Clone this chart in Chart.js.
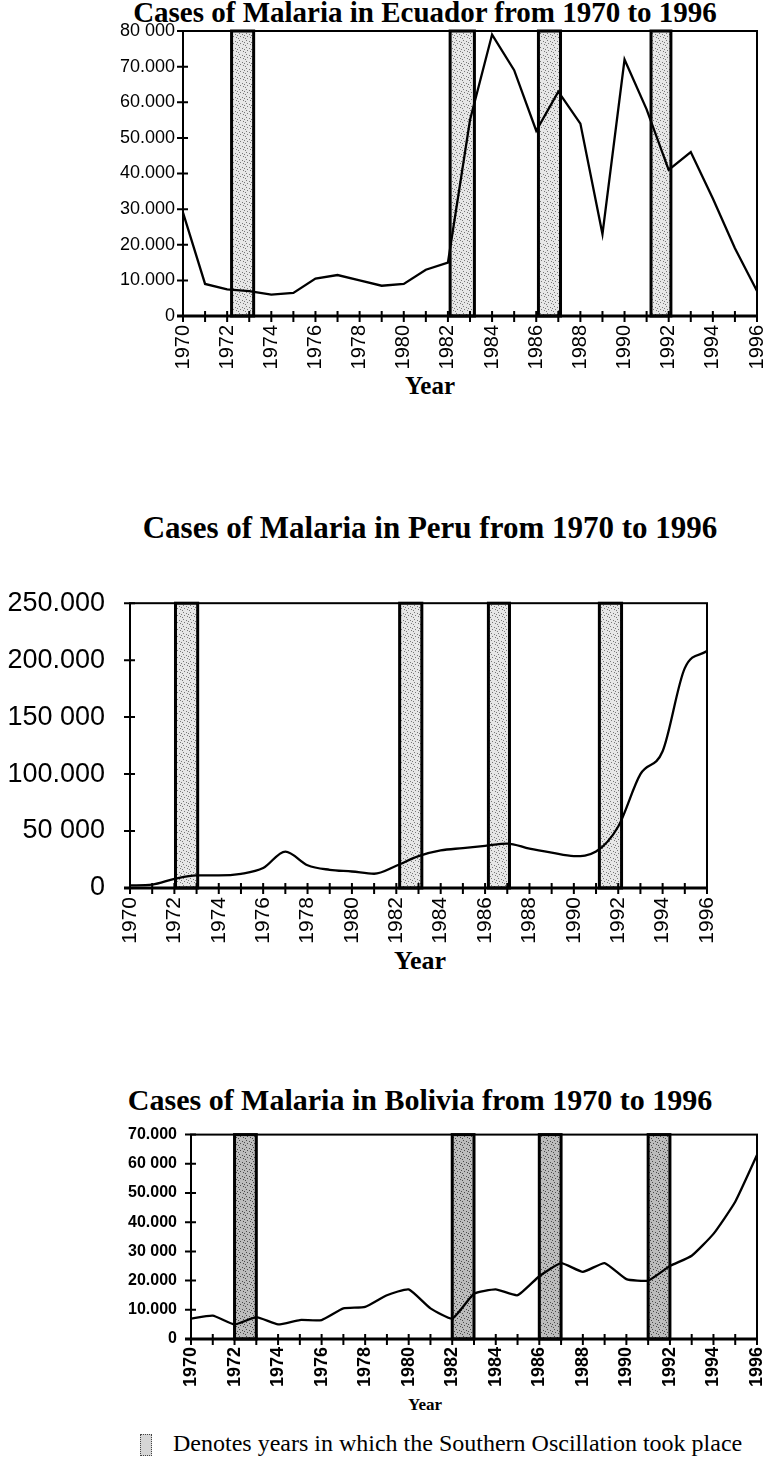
<!DOCTYPE html>
<html lang="en">
<head>
  <meta charset="UTF-8" />
  <title>Cases of Malaria in Ecuador, Peru and Bolivia, 1970-1996</title>
  <script src="https://cdn.jsdelivr.net/npm/chart.js"></script>
  <style>
    body { margin: 0; background: #fff; }
    #page { position: relative; width: 764px; height: 1469px; overflow: hidden; background: #fff; }
    #page canvas { position: absolute; left: 0; }
    .txt { position: absolute; font-family: "Liberation Serif", "Times New Roman", serif; color: #000; white-space: nowrap; line-height: 1; }
    .mid { transform: translateX(-50%); }
    .bold { font-weight: bold; }
    #legendBox { position: absolute; left: 140px; top: 1434px; width: 10px; height: 20px; border: 1px dotted #444; background: #d6d6d6; }
  </style>
</head>
<body>
<div id="page">
  <div class="txt bold mid" style="left:425px; top:-2px; font-size:29px">Cases of Malaria in Ecuador from 1970 to 1996</div>
  <div class="txt bold mid" style="left:430px; top:373px; font-size:25px">Year</div>

  <div class="txt bold mid" style="left:430px; top:512px; font-size:31px">Cases of Malaria in Peru from 1970 to 1996</div>
  <div class="txt bold mid" style="left:420px; top:948px; font-size:26px">Year</div>

  <div class="txt bold mid" style="left:420px; top:1085px; font-size:30px">Cases of Malaria in Bolivia from 1970 to 1996</div>
  <div class="txt bold mid" style="left:425px; top:1396px; font-size:17px">Year</div>

  <div id="legendBox"></div>
  <div class="txt" style="left:173px; top:1431px; font-size:24px">Denotes years in which the Southern Oscillation took place</div>

  <canvas id="ecuador"></canvas>
  <canvas id="peru"></canvas>
  <canvas id="bolivia"></canvas>
</div>
<script>
  // yearly reported cases
  const years = [1970, 1971, 1972, 1973, 1974, 1975, 1976, 1977, 1978, 1979, 1980, 1981, 1982, 1983,
                 1984, 1985, 1986, 1987, 1988, 1989, 1990, 1991, 1992, 1993, 1994, 1995, 1996];
  const ecuadorCases = [29000, 9000, 7500, 7000, 6000, 6500, 10500, 11500, 10000, 8500, 9000, 13000, 15000, 55000,
                        79000, 69000, 52000, 63000, 54000, 23000, 72000, 58000, 41000, 46000, 33000, 19000, 7000];
  const peruCases = [2300, 3000, 8000, 11000, 11000, 12500, 17500, 32000, 20000, 16000, 14500, 12500, 19500, 28000,
                     33000, 35000, 37000, 39000, 34500, 31000, 28000, 32000, 54000, 100000, 120000, 193000, 208000];
  const boliviaCases = [7000, 8000, 5000, 7500, 5000, 6500, 6500, 10500, 11000, 15000, 17000, 10500, 7000, 15500,
                        17000, 15000, 21500, 26000, 23000, 26000, 20500, 20000, 25000, 28500, 36000, 47000, 63000];

  // Southern Oscillation years (shaded bands), as placed on each panel
  const ecuadorBands = [[1972.2, 1973.2], [1982.1, 1983.2], [1986.1, 1987.1], [1991.2, 1992.1]];
  const peruBands = [[1972.05, 1973.05], [1982.15, 1983.15], [1986.15, 1987.1], [1991.15, 1992.15]];
  const boliviaBands = [[1972, 1973], [1982, 1983], [1986, 1987], [1991, 1992]];

  const yearTicks = [1970, 1972, 1974, 1976, 1978, 1980, 1982, 1984, 1986, 1988, 1990, 1992, 1994, 1996];
  const ecuadorTickLabels = ['0', '10.000', '20.000', '30.000', '40.000', '50.000', '60.000', '70.000', '80 000'];
  const peruTickLabels = ['0', '50 000', '100.000', '150 000', '200.000', '250.000'];
  const boliviaTickLabels = ['0', '10.000', '20.000', '30 000', '40.000', '50.000', '60 000', '70.000'];

  function makePattern(base, dot) {
    const c = document.createElement('canvas');
    c.width = 7; c.height = 7;
    const g = c.getContext('2d');
    g.fillStyle = base;
    g.fillRect(0, 0, 7, 7);
    g.fillStyle = dot;
    [[1, 1], [4, 2], [2, 4], [5, 5], [0, 6], [6, 3]].forEach(p => g.fillRect(p[0], p[1], 1, 1));
    return g.createPattern(c, 'repeat');
  }

  const bandPlugin = (pattern, bands) => ({
    id: 'oscillation',
    beforeDatasetsDraw(chart) {
      const { ctx, chartArea: a, scales: { x } } = chart;
      ctx.save();
      bands.forEach(([from, to]) => {
        const x1 = x.getPixelForValue(from), x2 = x.getPixelForValue(to);
        ctx.fillStyle = pattern;
        ctx.fillRect(x1, a.top, x2 - x1, a.bottom - a.top);
        ctx.strokeStyle = '#000';
        ctx.lineWidth = 3;
        ctx.strokeRect(x1, a.top, x2 - x1, a.bottom - a.top);
      });
      ctx.restore();
    }
  });

  const framePlugin = {
    id: 'frame',
    afterDatasetsDraw(chart) {
      const { ctx, chartArea: a, scales: { x, y } } = chart;
      ctx.save();
      ctx.strokeStyle = '#000';
      ctx.lineWidth = 2;
      ctx.strokeRect(a.left, a.top, a.right - a.left, a.bottom - a.top);
      ctx.lineWidth = 3;
      ctx.beginPath();
      ctx.moveTo(a.left - 6, a.bottom);
      ctx.lineTo(a.right, a.bottom);
      ctx.stroke();
      ctx.lineWidth = 2;
      ctx.beginPath();
      y.ticks.forEach(t => {
        const py = y.getPixelForValue(t.value);
        ctx.moveTo(a.left - 6, py);
        ctx.lineTo(a.left + 5, py);
      });
      x.ticks.forEach(t => {
        const px = x.getPixelForValue(t.value);
        ctx.moveTo(px, a.bottom - 5);
        ctx.lineTo(px, a.bottom + 6);
      });
      ctx.stroke();
      ctx.restore();
    }
  };

  function makeChart(id, o) {
    const canvas = document.getElementById(id);
    const padTop = 20, below = 80, W = 800;
    const H = padTop + (o.plot.bottom - o.plot.top) + below;
    canvas.width = W;
    canvas.height = H;
    canvas.style.top = (o.plot.top - padTop) + 'px';
    canvas.style.width = W + 'px';
    canvas.style.height = H + 'px';
    const pattern = makePattern(o.bandBase, o.bandDot);
    return new Chart(canvas, {
      type: 'line',
      data: {
        datasets: [{
          data: years.map((yr, i) => ({ x: yr, y: o.cases[i] })),
          borderColor: '#000',
          borderWidth: 2.3,
          pointRadius: 0,
          tension: o.tension,
          cubicInterpolationMode: o.mode
        }]
      },
      options: {
        responsive: false,
        animation: false,
        layout: { autoPadding: false, padding: { left: 0, top: padTop, right: W - o.plot.right, bottom: 0 } },
        plugins: { legend: { display: false }, tooltip: { enabled: false } },
        scales: {
          x: {
            type: 'linear', min: 1970, max: 1996,
            grid: { display: false, drawTicks: false },
            border: { display: false },
            ticks: {
              stepSize: 1, autoSkip: false, minRotation: 90, maxRotation: 90,
              padding: o.xPad, color: '#000', font: o.xFont,
              callback: v => yearTicks.includes(v) ? String(v) : ''
            },
            afterFit: s => { s.height = below; }
          },
          y: {
            min: 0, max: o.max,
            grid: { display: false, drawTicks: false },
            border: { display: false },
            ticks: {
              stepSize: o.step, padding: o.yPad, color: '#000', font: o.yFont,
              callback: (v, i) => o.tickLabels[i]
            },
            afterFit: s => { s.width = o.plot.left; }
          }
        }
      },
      plugins: [bandPlugin(pattern, o.bands), framePlugin]
    });
  }

  const sans = '"Liberation Sans", Arial, sans-serif';

  makeChart('ecuador', {
    plot: { left: 183, right: 757, top: 31, bottom: 316 },
    cases: ecuadorCases, tickLabels: ecuadorTickLabels, max: 80000, step: 10000,
    bands: ecuadorBands, bandBase: '#e6e6e6', bandDot: '#777',
    tension: 0, mode: 'default',
    xPad: 9, yPad: 8,
    xFont: { family: sans, size: 20 }, yFont: { family: sans, size: 18 }
  });

  makeChart('peru', {
    plot: { left: 130, right: 707, top: 582, bottom: 888 },
    cases: peruCases, tickLabels: peruTickLabels, max: 250000, step: 50000,
    bands: peruBands, bandBase: '#e6e6e6', bandDot: '#777',
    tension: 0.4, mode: 'monotone',
    xPad: 9, yPad: 25,
    xFont: { family: sans, size: 21 }, yFont: { family: sans, size: 27 }
  });

  makeChart('bolivia', {
    plot: { left: 191, right: 757, top: 1131, bottom: 1339 },
    cases: boliviaCases, tickLabels: boliviaTickLabels, max: 70000, step: 10000,
    bands: boliviaBands, bandBase: '#bcbcbc', bandDot: '#4a4a4a',
    tension: 0.15, mode: 'default',
    xPad: 8, yPad: 14,
    xFont: { family: sans, size: 18, weight: 'bold' },
    yFont: { family: sans, size: 16, weight: 'bold' }
  });
</script>
</body>
</html>
